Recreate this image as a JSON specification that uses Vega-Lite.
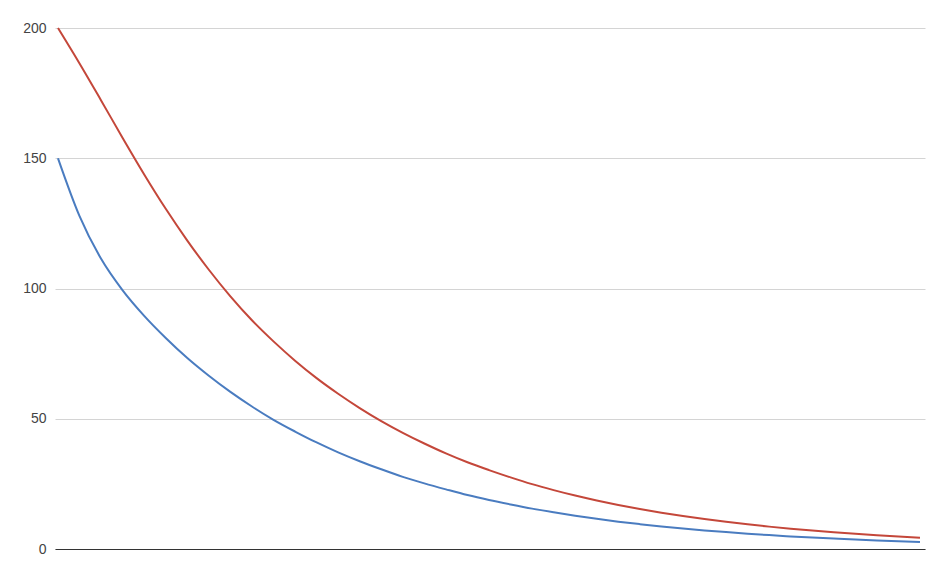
{
  "$schema": "https://vega.github.io/schema/vega-lite/v6.json",
  "width": 870,
  "height": 521,
  "autosize": {"type": "none"},
  "padding": {"left": 55, "top": 28, "right": 8, "bottom": 23},
  "background": "white",
  "config": {"view": {"stroke": null}},
  "datasets": {
    "curves": [
      {"t":0,"s":"A","v":150},{"t":1,"s":"A","v":127.8},{"t":2,"s":"A","v":111.4},{"t":3,"s":"A","v":99.3},{"t":4,"s":"A","v":89.5},
      {"t":5,"s":"A","v":81.0},{"t":6,"s":"A","v":73.3},{"t":7,"s":"A","v":66.5},{"t":8,"s":"A","v":60.3},{"t":9,"s":"A","v":54.7},
      {"t":10,"s":"A","v":49.6},{"t":11,"s":"A","v":45.1},{"t":12,"s":"A","v":40.9},{"t":13,"s":"A","v":37.1},{"t":14,"s":"A","v":33.7},
      {"t":15,"s":"A","v":30.6},{"t":16,"s":"A","v":27.7},{"t":17,"s":"A","v":25.2},{"t":18,"s":"A","v":22.9},{"t":19,"s":"A","v":20.7},
      {"t":20,"s":"A","v":18.8},{"t":21,"s":"A","v":17.1},{"t":22,"s":"A","v":15.5},{"t":23,"s":"A","v":14.1},{"t":24,"s":"A","v":12.8},
      {"t":25,"s":"A","v":11.6},{"t":26,"s":"A","v":10.5},{"t":27,"s":"A","v":9.54},{"t":28,"s":"A","v":8.66},{"t":29,"s":"A","v":7.86},
      {"t":30,"s":"A","v":7.13},{"t":31,"s":"A","v":6.48},{"t":32,"s":"A","v":5.88},{"t":33,"s":"A","v":5.33},{"t":34,"s":"A","v":4.84},
      {"t":35,"s":"A","v":4.39},{"t":36,"s":"A","v":3.99},{"t":37,"s":"A","v":3.62},{"t":38,"s":"A","v":3.28},{"t":39,"s":"A","v":2.98},
      {"t":40,"s":"A","v":2.70},
      {"t":0,"s":"B","v":200},{"t":1,"s":"B","v":186.4},{"t":2,"s":"B","v":172.2},{"t":3,"s":"B","v":157.8},{"t":4,"s":"B","v":143.8},
      {"t":5,"s":"B","v":130.6},{"t":6,"s":"B","v":118.4},{"t":7,"s":"B","v":107.2},{"t":8,"s":"B","v":97.0},{"t":9,"s":"B","v":87.8},
      {"t":10,"s":"B","v":79.7},{"t":11,"s":"B","v":72.3},{"t":12,"s":"B","v":65.6},{"t":13,"s":"B","v":59.6},{"t":14,"s":"B","v":54.1},
      {"t":15,"s":"B","v":49.1},{"t":16,"s":"B","v":44.6},{"t":17,"s":"B","v":40.5},{"t":18,"s":"B","v":36.7},{"t":19,"s":"B","v":33.3},
      {"t":20,"s":"B","v":30.3},{"t":21,"s":"B","v":27.5},{"t":22,"s":"B","v":24.9},{"t":23,"s":"B","v":22.6},{"t":24,"s":"B","v":20.5},
      {"t":25,"s":"B","v":18.6},{"t":26,"s":"B","v":16.9},{"t":27,"s":"B","v":15.35},{"t":28,"s":"B","v":13.93},{"t":29,"s":"B","v":12.65},
      {"t":30,"s":"B","v":11.48},{"t":31,"s":"B","v":10.42},{"t":32,"s":"B","v":9.46},{"t":33,"s":"B","v":8.59},{"t":34,"s":"B","v":7.79},
      {"t":35,"s":"B","v":7.07},{"t":36,"s":"B","v":6.42},{"t":37,"s":"B","v":5.83},{"t":38,"s":"B","v":5.29},{"t":39,"s":"B","v":4.80},
      {"t":40,"s":"B","v":4.36}
    ]
  },
  "data": {"name": "curves"},
  "mark": {"type": "line", "interpolate": "monotone", "strokeWidth": 2},
  "encoding": {
    "x": {
      "field": "t", "type": "quantitative",
      "scale": {"domain": [-0.139, 40.232], "nice": false, "zero": false},
      "axis": {"title": null, "labels": false, "ticks": false, "grid": false, "domain": true, "domainColor": "#333333", "domainWidth": 1}
    },
    "y": {
      "field": "v", "type": "quantitative",
      "scale": {"domain": [0, 200], "nice": false},
      "axis": {"title": null, "values": [0, 50, 100, 150, 200], "ticks": false, "domain": false, "grid": true, "gridColor": "#d4d4d4", "gridWidth": 1, "labelFont": "Liberation Sans", "labelFontSize": 14, "labelColor": "#444444", "labelPadding": 9}
    },
    "color": {
      "field": "s", "type": "nominal",
      "scale": {"domain": ["A", "B"], "range": ["#4a7cc0", "#c4473a"]},
      "legend": null
    }
  }
}
